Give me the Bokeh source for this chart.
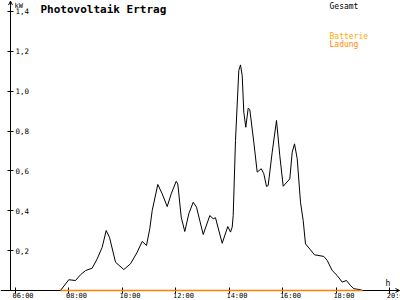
from bokeh.plotting import figure
from bokeh.models import (LinearAxis, FixedTicker, Range1d, Label, Arrow, OpenHead, Grid)
from bokeh.core.properties import value
from bokeh.embed import file_html
from bokeh.resources import INLINE

# ---- data ----
hours = [7.683, 7.993, 8.244, 8.431, 8.618, 8.868, 9.055, 9.242, 9.392, 9.515,
         9.740, 10.050, 10.301, 10.551, 10.738, 10.899, 11.022, 11.112, 11.322, 11.486,
         11.673, 11.823, 12.010, 12.070, 12.197, 12.331, 12.481, 12.646, 12.769, 13.020,
         13.266, 13.393, 13.479, 13.730, 13.939, 14.040, 14.104, 14.141, 14.227, 14.351,
         14.414, 14.478, 14.538, 14.612, 14.702, 14.762, 14.912, 15.039, 15.189, 15.286,
         15.387, 15.450, 15.600, 15.761, 15.884, 16.011, 16.258, 16.348, 16.434, 16.535,
         16.658, 16.759, 16.845, 17.032, 17.182, 17.530, 17.657, 17.844, 18.031, 18.218,
         18.378, 18.528, 18.651, 18.902, 18.977]
gesamt_kw = [0.000, 0.054, 0.050, 0.079, 0.100, 0.112, 0.159, 0.217, 0.301, 0.267,
             0.142, 0.105, 0.134, 0.192, 0.246, 0.226, 0.310, 0.401, 0.532, 0.485,
             0.421, 0.485, 0.548, 0.535, 0.368, 0.296, 0.385, 0.443, 0.418, 0.281,
             0.376, 0.360, 0.365, 0.237, 0.321, 0.293, 0.318, 0.376, 0.753, 1.104,
             1.132, 1.079, 0.895, 0.819, 0.915, 0.908, 0.744, 0.594, 0.611, 0.586,
             0.522, 0.527, 0.694, 0.853, 0.677, 0.523, 0.560, 0.694, 0.736, 0.661,
             0.443, 0.351, 0.234, 0.204, 0.179, 0.171, 0.151, 0.100, 0.075, 0.042,
             0.050, 0.025, 0.009, 0.004, 0.000]
ladung_hours = [7.683, 18.977]
ladung_kw = [0.0, 0.0]

x_ticks = [6, 8, 10, 12, 14, 16, 18, 20]
x_labels = ["06:00", "08:00", "10:00", "12:00", "14:00", "16:00", "18:00", "20:00"]
y_ticks = [0.2, 0.4, 0.6, 0.8, 1.0, 1.2, 1.4]
y_labels = ["0,2", "0,4", "0,6", "0,8", "1,0", "1,2", "1,4"]

# ---- layout constants ----
X0, X1 = 5.439, 20.398
Y0, Y1 = -0.0502, 1.4551
AXIS_X = 5.813
ARROW_X = 20.36
ARROW_Y = 1.452

p = figure(width=400, height=300, output_backend="svg", toolbar_location=None,
           x_axis_location=None, y_axis_location=None,
           x_range=Range1d(X0, X1), y_range=Range1d(Y0, Y1),
           min_border=0, min_border_left=0, min_border_right=0,
           min_border_top=0, min_border_bottom=0)
p.outline_line_color = None
p.background_fill_color = "white"
p.border_fill_color = "white"
for r in list(p.center):
    if isinstance(r, Grid):
        r.visible = False
p.grid.visible = False

MONO = "DejaVu Sans Mono"

xaxis = LinearAxis(fixed_location=0, ticker=FixedTicker(ticks=x_ticks),
                   bounds=(X0, ARROW_X))
xaxis.axis_line_color = "black"
xaxis.major_tick_in = 3
xaxis.major_tick_out = 3
xaxis.minor_tick_line_color = None
xaxis.major_label_text_font_size = "0px"
xaxis.major_label_text_alpha = 0
p.add_layout(xaxis, "below")

yaxis = LinearAxis(fixed_location=AXIS_X, ticker=FixedTicker(ticks=y_ticks),
                   major_label_overrides=dict(zip(y_ticks, y_labels)),
                   bounds=(0, ARROW_Y))
yaxis.axis_line_color = "black"
yaxis.major_tick_in = 3
yaxis.major_tick_out = 3
yaxis.minor_tick_line_color = None
yaxis.major_label_standoff = 2
yaxis.major_label_text_font = MONO
yaxis.major_label_text_font_size = "7.5px"
yaxis.major_label_text_color = "black"
p.add_layout(yaxis, "right")

# x tick labels, placed just right of each tick, below the axis
p.text(x=x_ticks, y=[0] * len(x_ticks), text=x_labels, x_offset=-3, y_offset=1.5,
       text_font=value(MONO), text_font_size="7px", text_align="left",
       text_baseline="top", text_color="black")

# arrow heads on the axes
p.add_layout(Arrow(end=OpenHead(size=4, line_width=1, line_color="black"),
                   x_start=AXIS_X, y_start=1.40, x_end=AXIS_X, y_end=ARROW_Y,
                   line_color="black", line_width=1))
p.add_layout(Arrow(end=OpenHead(size=4, line_width=1, line_color="black"),
                   x_start=20.0, y_start=0, x_end=ARROW_X, y_end=0,
                   line_color="black", line_width=1))

# series
p.line(hours, gesamt_kw, line_color="black", line_width=1)
p.line(ladung_hours, ladung_kw, line_color="#FF8000", line_width=1.6, level="overlay")

# texts
p.add_layout(Label(x=40, y=298, x_units="screen", y_units="screen",
                   text="Photovoltaik Ertrag", text_font=MONO, text_font_style="bold",
                   text_font_size="11px", text_baseline="top", text_color="black"))
p.add_layout(Label(x=14, y=299, x_units="screen", y_units="screen",
                   text="kW", text_font=MONO, text_font_size="7px",
                   text_baseline="top", text_color="black"))
p.add_layout(Label(x=329, y=299, x_units="screen", y_units="screen",
                   text="Gesamt", text_font=MONO, text_font_size="8px",
                   text_baseline="top", text_color="black"))
p.add_layout(Label(x=329, y=269, x_units="screen", y_units="screen",
                   text="Batterie", text_font=MONO, text_font_size="8px",
                   text_baseline="top", text_color="#FFAA00"))
p.add_layout(Label(x=329, y=261, x_units="screen", y_units="screen",
                   text="Ladung", text_font=MONO, text_font_size="8px",
                   text_baseline="top", text_color="#FF8800"))
p.add_layout(Label(x=385, y=22, x_units="screen", y_units="screen",
                   text="h", text_font=MONO, text_font_size="8px",
                   text_baseline="top", text_color="black"))

open("out.html", "w").write(file_html(p, INLINE))
